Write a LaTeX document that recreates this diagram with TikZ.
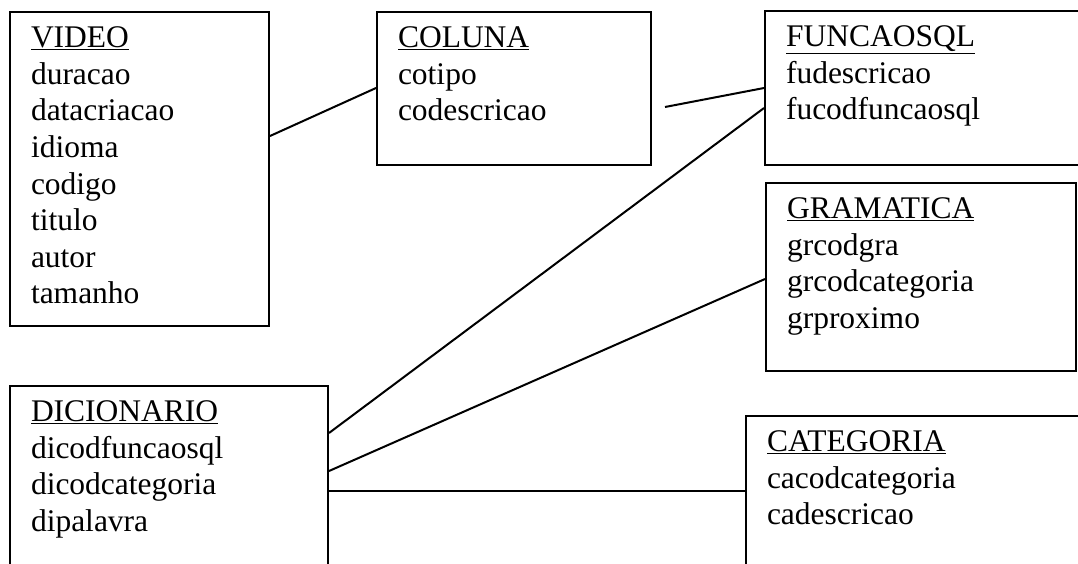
\documentclass[tikz,border=0pt]{standalone}
\usepackage{fontspec}
\setmainfont{Liberation Serif}
\usetikzlibrary{positioning}

\newcommand{\campos}[3]{\parbox[t][#1][t]{#2}{\strut #3}}

\begin{document}
\begin{tikzpicture}[x=1pt, y=-1pt,
    tabela/.style={rectangle, draw, line width=2pt, anchor=north west, inner xsep=21pt, inner ysep=10pt, font=\fontsize{31.5}{36.6}\selectfont},
    liga/.style={line width=2pt}]
    \useasboundingbox (0,0) rectangle (1078,563);
    \clip (0,0) rectangle (1078,563);

    \node[tabela] (video) at (9,11) {\campos{294pt}{217pt}{\underline{VIDEO} \\ duracao \\ datacriacao \\ idioma \\ codigo \\ titulo \\ autor \\ tamanho}};
    \node[tabela] (coluna) at (376,11) {\campos{133pt}{232pt}{\underline{COLUNA} \\ cotipo \\ codescricao}};
    \node[tabela] (funcaosql) at (764,10) {\campos{134pt}{294pt}{\underline{FUNCAOSQL} \\ fudescricao \\ fucodfuncaosql}};
    \node[tabela] (gramatica) at (765,182) {\campos{168pt}{268pt}{\underline{GRAMATICA} \\ grcodgra \\ grcodcategoria \\ grproximo}};
    \node[tabela] (dicionario) at (9,385) {\campos{195pt}{276pt}{\underline{DICIONARIO} \\ dicodfuncaosql \\ dicodcategoria \\ dipalavra}};
    \node[tabela] (categoria) at (745,415) {\campos{165pt}{313pt}{\underline{CATEGORIA} \\ cacodcategoria \\ cadescricao}};
    \coordinate (solta) at (665,107);

    \draw[liga] ([yshift=-125pt]video.north east) -- ([yshift=-77pt]coluna.north west);
    \draw[liga] (solta) -- ([yshift=-78pt]funcaosql.north west);
    \draw[liga] ([yshift=-48pt]dicionario.north east) -- ([yshift=-98pt]funcaosql.north west);
    \draw[liga] ([yshift=-86pt]dicionario.north east) -- ([yshift=-97pt]gramatica.north west);
    \draw[liga] ([yshift=-106pt]dicionario.north east) -- ([yshift=-76pt]categoria.north west);
\end{tikzpicture}
\end{document}
